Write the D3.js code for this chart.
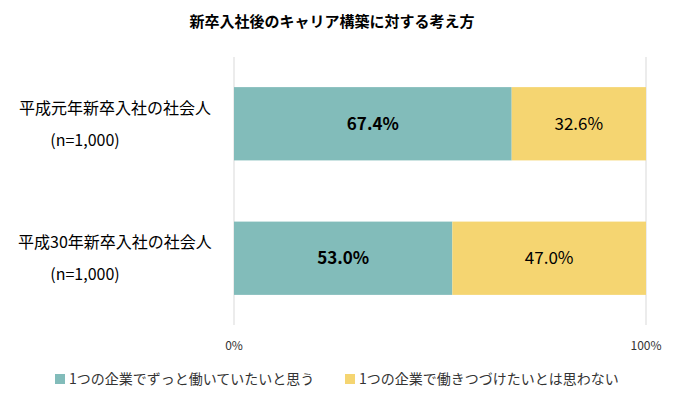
<!DOCTYPE html><html><head><meta charset="utf-8"><script src="https://cdn.jsdelivr.net/npm/d3@7"></script>
<style>body{margin:0;background:#fff}text{font-family:"Noto Sans CJK JP","Noto Sans",sans-serif}</style></head><body>
<svg id="c" width="681" height="401"></svg>
<script>
const categories=["平成元年新卒入社の社会人","平成30年新卒入社の社会人"];
const sampleLabels=["(n=1,000)","(n=1,000)"];
const seriesNames=["1つの企業でずっと働いていたいと思う","1つの企業で働きつづけたいとは思わない"];
const want=[67.4,53.0];
const notWant=[32.6,47.0];
const tickLabels=["0%","100%"];
const colors=["#82BCBA","#F5D571"];
const svg=d3.select("#c");
const x=d3.scaleLinear().domain([0,100]).range([234,646]);
const y=d3.scaleBand().domain(categories).range([57,325]).paddingInner(0.455).paddingOuter(0.224);
svg.append("text").attr("x",332).attr("y",27).attr("text-anchor","middle").attr("font-size",15).attr("font-weight","bold").text("新卒入社後のキャリア構築に対する考え方");
[0,100].forEach(v=>svg.append("line").attr("x1",x(v)).attr("x2",x(v)).attr("y1",57).attr("y2",325).attr("stroke","#d9d9d9"));
tickLabels.forEach((t,i)=>svg.append("text").attr("x",x(i*100)).attr("y",350).attr("text-anchor","middle").attr("font-size",12).attr("fill","#333").text(t));
categories.forEach((c,i)=>{
 const yy=y(c),h=y.bandwidth();
 svg.append("rect").attr("x",x(0)).attr("y",yy).attr("width",x(want[i])-x(0)).attr("height",h).attr("fill",colors[0]);
 svg.append("rect").attr("x",x(want[i])).attr("y",yy).attr("width",x(100)-x(want[i])).attr("height",h).attr("fill",colors[1]);
 svg.append("text").attr("x",x(want[i]/2)).attr("y",yy+h/2+6).attr("text-anchor","middle").attr("font-size",17).attr("font-weight","bold").text(want[i].toFixed(1)+"%");
 svg.append("text").attr("x",x(want[i]+notWant[i]/2)).attr("y",yy+h/2+6).attr("text-anchor","middle").attr("font-size",17).text(notWant[i].toFixed(1)+"%");
 svg.append("text").attr("x",115).attr("y",yy+h/2-10).attr("text-anchor","middle").attr("font-size",16).text(c);
 svg.append("text").attr("x",85).attr("y",yy+h/2+22).attr("text-anchor","middle").attr("font-size",16).text(sampleLabels[i]);
});
const lx=[55,345];
seriesNames.forEach((s,i)=>{
 svg.append("rect").attr("x",lx[i]).attr("y",374).attr("width",10).attr("height",10).attr("fill",colors[i]);
 svg.append("text").attr("x",lx[i]+14).attr("y",384).attr("font-size",14).attr("fill","#333").text(s);
});
</script></body></html>
